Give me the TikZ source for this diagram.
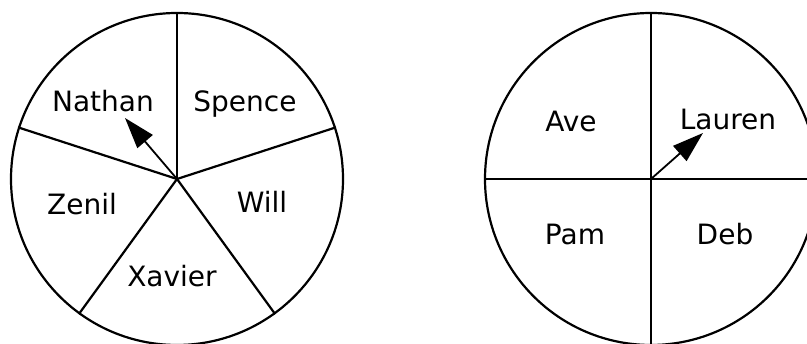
\documentclass[tikz,border=0pt]{standalone}
\usepackage{fontspec}
\setmainfont{DejaVu Sans}
\usetikzlibrary{arrows.meta}
\begin{document}
\begin{tikzpicture}[x=1pt,y=1pt,
  wheel/.style={circle,draw,line width=2.2pt,minimum size=332pt,inner sep=0pt},
  spoke/.style={line width=2.2pt},
  who/.style={anchor=base,font=\fontsize{28}{33}\selectfont},
  pointer/.style={line width=1.8pt,-{Triangle[length=31pt,width=20pt]}}]
\useasboundingbox (0,0) rectangle (807,344);

% spinner with five parts
\node[wheel] (wl) at (177,165) {};
\foreach \ang in {90,18,-54,-126,162}
{
\draw[spoke] (wl.center) -- (wl.\ang);
}
\node[who] (nathan) at (103,232) {Nathan};
\node[who] (spence) at (245,232) {Spence};
\node[who] (zenil) at (82,129) {Zenil};
\node[who] (will) at (262,131) {Will};
\node[who] (xavier) at (172,57) {Xavier};
\coordinate (tipl) at (125,226);
\draw[pointer] (wl.center) -- (tipl);

% spinner with four parts
\node[wheel] (wr) at (651,165) {};
\foreach \ang in {0,90,180,270}
{
\draw[spoke] (wr.center) -- (wr.\ang);
}
\node[who] (ave) at (571,212) {Ave};
\node[who] (lauren) at (728,214) {Lauren};
\node[who] (pam) at (575,99) {Pam};
\node[who] (deb) at (725,99) {Deb};
\coordinate (tipr) at (703,211);
\draw[pointer] (wr.center) -- (tipr);

\end{tikzpicture}
\end{document}
